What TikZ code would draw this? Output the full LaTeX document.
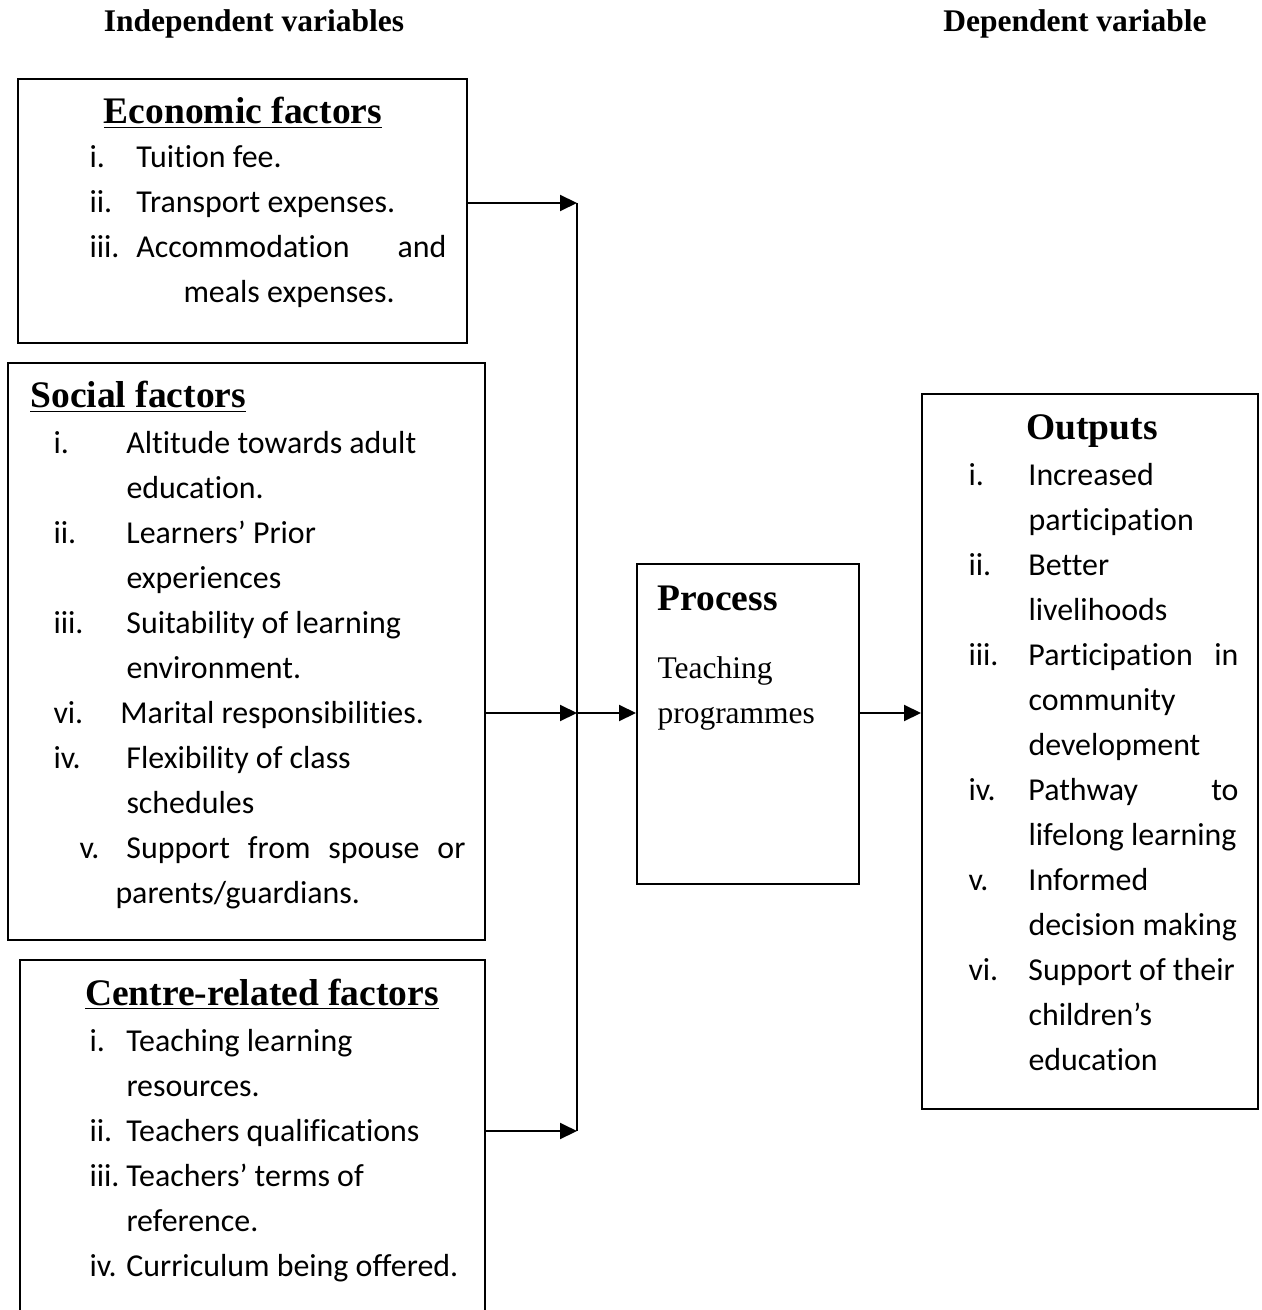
\documentclass[tikz,border=0pt]{standalone}
\usepackage{fontspec}
\setmainfont{Liberation Serif}
\newfontfamily\calibri[Ligatures={NoCommon,NoContextual}]{Carlito}
\usepackage{array}
\usetikzlibrary{arrows.meta, fit}

\begin{document}
\begin{tikzpicture}[x=0.4pt, y=-0.4pt,
  box/.style={draw, line width=0.8pt, inner sep=0pt},
  head/.style={font=\bfseries\fontsize{15pt}{18pt}\selectfont, inner sep=0pt},
  varhead/.style={font=\bfseries\fontsize{12.6pt}{15pt}\selectfont, inner sep=0pt, anchor=base},
  listtext/.style={font=\calibri\fontsize{12.76pt}{18pt}\selectfont, inner sep=0pt, anchor=base west},
  arr/.style={line width=0.8pt, -{Triangle[length=6.8pt, width=6.4pt]}}]
\useasboundingbox (0,0) rectangle (1261,1310);

% Column titles
\node[varhead] (indep) at (254,32) {Independent variables};
\node[varhead] (dep) at (1075,32) {Dependent variable};

% Economic factors
\node[box, fit={(18,79) (467,343)}] (econ) {};
\node[head, anchor=base] (econhead) at (243,124) {\underline{Economic factors}};
\node[listtext] (econlist) at (89,168) {%
  \begin{tabular}[t]{@{}p{18.8pt}@{}l@{}}
  i.   & Tuition fee.\\
  ii.  & Transport expenses.\\
  iii. & \makebox[124pt][l]{Accommodation\hfill and}\\
       & \hspace{18.8pt}meals expenses.
  \end{tabular}};

% Social factors
\node[box, fit={(8,363) (485,940)}] (social) {};
\node[head, anchor=base west] (sochead) at (30,408) {\underline{Social factors}};
\node[listtext] (soclist) at (53,453) {%
  \begin{tabular}[t]{@{}p{29.2pt}@{}l@{}}
  i.   & Altitude towards adult\\
       & education.\\
  ii.  & Learners’ Prior\\
       & experiences\\
  iii. & Suitability of learning\\
       & environment.\\
  vi.  & \hspace{-2.4pt}Marital responsibilities.\\
  iv.  & Flexibility of class\\
       & schedules\\
  \hspace{10.4pt}v. & \makebox[135.6pt][l]{Support\hfill from\hfill spouse\hfill or}\\
       & \hspace{-4.4pt}parents/guardians.
  \end{tabular}};

% Centre-related factors
\node[box, fit={(20,960) (485,1340)}] (centre) {};
\node[head, anchor=base] (centrehead) at (262,1005) {\underline{Centre-related factors}};
\node[listtext] (centrelist) at (89,1051) {%
  \begin{tabular}[t]{@{}p{14.8pt}@{}l@{}}
  i.   & Teaching learning\\
       & resources.\\
  ii.  & Teachers qualifications\\
  iii. & Teachers’ terms of\\
       & reference.\\
  iv.  & Curriculum being offered.
  \end{tabular}};

% Process
\node[box, fit={(637,564) (859,884)}] (process) {};
\node[head, anchor=base west] (prochead) at (657,610) {Process};
\node[inner sep=0pt, anchor=base west, font=\fontsize{12.6pt}{18pt}\selectfont] (proctext) at (657,678) {%
  \begin{tabular}[t]{@{}l@{}}
  Teaching\\
  programmes
  \end{tabular}};

% Outputs
\node[box, fit={(922,394) (1258,1109)}] (outputs) {};
\node[head, anchor=base] (outhead) at (1092,440) {Outputs};
\node[listtext] (outlist) at (968,485) {%
  \begin{tabular}[t]{@{}p{24pt}@{}l@{}}
  i.   & Increased\\
       & participation\\
  ii.  & Better\\
       & livelihoods\\
  iii. & \makebox[84pt][l]{Participation\hfill in}\\
       & community\\
       & development\\
  iv.  & \makebox[84pt][l]{Pathway\hfill to}\\
       & lifelong learning\\
  v.   & Informed\\
       & decision making\\
  vi.  & Support of their\\
       & children’s\\
       & education
  \end{tabular}};

% Connectors
\coordinate (bustop) at (577,203);
\coordinate (busmid) at (577,713);
\coordinate (busbot) at (577,1131);
\draw[line width=0.8pt] (bustop) -- (busbot);
\draw[arr] (econ.east |- bustop) -- (bustop);
\draw[arr] (social.east |- busmid) -- (busmid);
\draw[arr] (centre.east |- busbot) -- (busbot);
\draw[arr] (busmid) -- (process.west |- busmid);
\draw[arr] (process.east |- busmid) -- (outputs.west |- busmid);
\end{tikzpicture}
\end{document}
